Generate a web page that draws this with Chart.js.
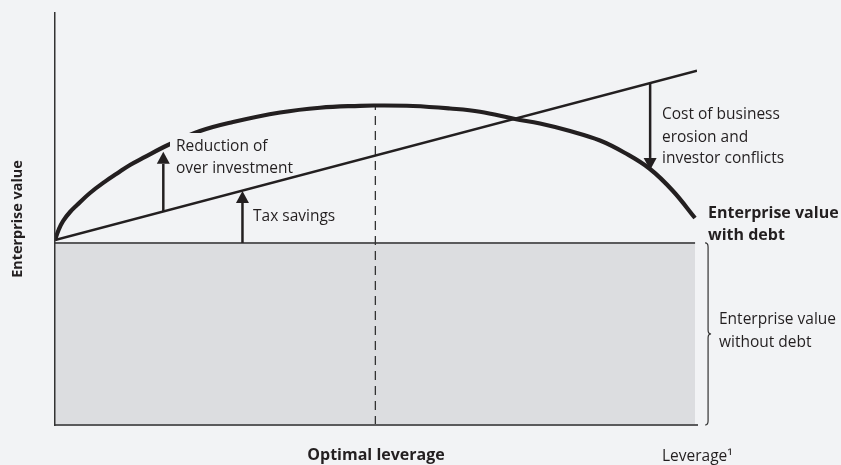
<!DOCTYPE html>
<html><head><meta charset="utf-8">
<script src="https://cdn.jsdelivr.net/npm/chart.js@4.4.1/dist/chart.umd.min.js"></script>
<style>html,body{margin:0;padding:0;background:#f2f3f5;} canvas{display:block;}</style>
</head><body>
<canvas id="c" width="841" height="465"></canvas>
<script>
// Leverage (x) and enterprise value (y), arbitrary units 0-100
const leverage = [0, 0.62, 1.25, 2.34, 3.43, 5.45, 7.79, 9.66, 11.68, 13.71, 17.6, 22.59, 27.73, 35.05, 41.28, 47.51, 49.84, 55.76, 61.53, 66.2, 71.65, 75.55, 80.22, 84.89, 88.79, 92.68, 96.26, 99.69];
const valueWithDebt = [44.9, 47.57, 49.51, 51.7, 53.4, 56.31, 59.08, 61.04, 63.11, 64.81, 67.96, 71.36, 73.54, 75.85, 77.01, 77.48, 77.55, 77.43, 76.82, 76.04, 74.27, 73.18, 71.36, 69.05, 66.02, 62.14, 56.8, 50.24];
const taxLeverage = [0, 100];
const taxShieldValue = [44.9, 86.0];
const baseLeverage = [0, 99.7];
const valueWithoutDebt = [44.2, 44.2];
const optimalLeverage = [49.9, 49.9];
const optimalLine = [0, 77.55];
// Arrows: leverage position, start value, end value
const arrowX = [16.87, 29.2, 92.7];
const arrowFrom = [51.8, 44.2, 82.8];
const arrowTo = [66.3, 56.8, 61.9];

const INK = '#231f20';
const BG = '#f2f3f5';
const FONT = '"Open Sans", "Noto Sans", sans-serif';
const pts = (xs, ys) => xs.map((x, i) => ({x, y: ys[i]}));

const annot = {
  id: 'annot',
  afterDatasetsDraw(chart) {
    const {ctx, scales: {x, y}} = chart;
    ctx.save();
    // label backdrop hiding the curve behind "Reduction of"
    ctx.fillStyle = BG;
    ctx.fillRect(170, 133, 105, 20);
    // arrows
    ctx.fillStyle = INK; ctx.strokeStyle = INK; ctx.lineWidth = 2.5;
    arrowX.forEach((ax, i) => {
      const px = x.getPixelForValue(ax);
      const y1 = y.getPixelForValue(arrowFrom[i]);
      const y2 = y.getPixelForValue(arrowTo[i]);
      const dir = Math.sign(y2 - y1);
      const head = 12, hw = 6.5;
      ctx.beginPath(); ctx.moveTo(px, y1); ctx.lineTo(px, y2 - dir * head); ctx.stroke();
      ctx.beginPath(); ctx.moveTo(px, y2); ctx.lineTo(px - hw, y2 - dir * head); ctx.lineTo(px + hw, y2 - dir * head); ctx.closePath(); ctx.fill();
    });
    // brace for value without debt
    const bx = x.getPixelForValue(baseLeverage[1]) + 13;
    const top = y.getPixelForValue(valueWithoutDebt[1]);
    const bot = y.getPixelForValue(0);
    const mid = (top + bot) / 2;
    ctx.strokeStyle = '#333'; ctx.lineWidth = 1.2;
    ctx.beginPath();
    ctx.moveTo(bx - 3, top); ctx.quadraticCurveTo(bx, top, bx, top + 4);
    ctx.lineTo(bx, mid - 4); ctx.quadraticCurveTo(bx, mid, bx + 3, mid);
    ctx.quadraticCurveTo(bx, mid, bx, mid + 4);
    ctx.lineTo(bx, bot - 4); ctx.quadraticCurveTo(bx, bot, bx - 3, bot);
    ctx.stroke();
    ctx.restore();
  },
  afterDraw(chart) {
    const ctx = chart.ctx;
    ctx.save();
    ctx.fillStyle = INK; ctx.textBaseline = 'alphabetic'; ctx.textAlign = 'left';
    ctx.font = '15.5px ' + FONT;
    const t = (s, x, y) => ctx.fillText(s, x, y);
    t('Reduction of', 176, 151); t('over investment', 176, 173);
    t('Tax savings', 253, 221);
    t('Cost of business', 662, 119); t('erosion and', 662, 141.5); t('investor conflicts', 662, 163);
    t('Enterprise value', 719, 324); t('without debt', 719, 346.5);
    t('Leverage¹', 662, 461);
    ctx.font = 'bold 16px ' + FONT;
    t('Enterprise value', 708, 218); t('with debt', 708, 240);
    ctx.restore();
  }
};

new Chart(document.getElementById('c'), {
  type: 'scatter',
  data: {datasets: [
    {data: pts(leverage, valueWithDebt), showLine: true, borderColor: INK, borderWidth: 4.2, pointRadius: 0, tension: 0.4, fill: false, order: 1},
    {data: pts(taxLeverage, taxShieldValue), showLine: true, borderColor: INK, borderWidth: 2.4, pointRadius: 0, fill: false, order: 2},
    {data: pts(optimalLeverage, optimalLine), showLine: true, borderColor: '#333', borderWidth: 1.3, borderDash: [9, 6], pointRadius: 0, fill: false, order: 3},
    {data: pts(baseLeverage, valueWithoutDebt), showLine: true, borderColor: '#5a5a5c', borderWidth: 2, backgroundColor: '#dcdde0', fill: 'origin', pointRadius: 0, order: 4}
  ]},
  options: {
    responsive: false, animation: false, devicePixelRatio: 1,
    layout: {padding: {left: 0, top: 13, right: 144, bottom: 0}},
    plugins: {legend: {display: false}, tooltip: {enabled: false}},
    scales: {
      x: {type: 'linear', min: 0, max: 100,
        ticks: {display: false}, grid: {display: false, drawTicks: false},
        border: {display: true, color: '#5a5a5c', width: 2, z: 1},
        title: {display: true, text: 'Optimal leverage', color: INK, font: {family: FONT, size: 16, weight: 'bold'}, padding: {top: 20.8, bottom: 0}}},
      y: {type: 'linear', min: 0, max: 100,
        ticks: {display: false}, grid: {display: false, drawTicks: false},
        border: {display: true, color: '#333', width: 1.5, z: 1},
        title: {display: true, text: 'Enterprise value', color: INK, font: {family: FONT, size: 14.4, weight: 'bold'}, padding: {top: 9.36, bottom: 28.36}}}
    }
  },
  plugins: [annot]
});
</script>
</body></html>
